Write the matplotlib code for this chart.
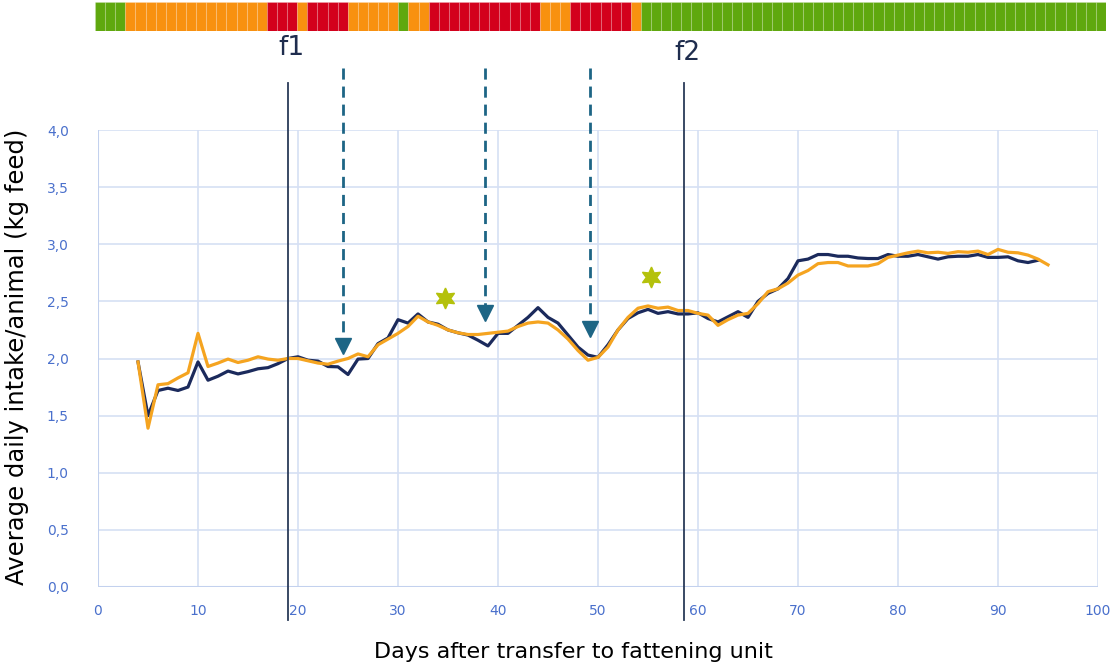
import matplotlib
matplotlib.use("Agg")
import matplotlib.pyplot as plt
import numpy as np

# ---------------- data ----------------
days_dark = list(range(4, 95))
intake_dark = [1.97, 1.50, 1.72, 1.74, 1.72, 1.75, 1.97, 1.81, 1.845, 1.89,
               1.865, 1.885, 1.91, 1.92, 1.955, 2.00, 2.015, 1.985, 1.977, 1.93,
               1.927, 1.86, 1.995, 2.00, 2.13, 2.18, 2.34, 2.31, 2.39, 2.32,
               2.30, 2.25, 2.225, 2.205, 2.16, 2.11, 2.22, 2.22, 2.29, 2.36,
               2.445, 2.36, 2.31, 2.205, 2.10, 2.03, 2.01, 2.12, 2.25, 2.35,
               2.40, 2.43, 2.395, 2.41, 2.39, 2.39, 2.40, 2.35, 2.32, 2.365,
               2.41, 2.36, 2.50, 2.57, 2.61, 2.70, 2.855, 2.87, 2.91, 2.91,
               2.895, 2.895, 2.88, 2.875, 2.875, 2.91, 2.895, 2.895, 2.91, 2.89,
               2.87, 2.89, 2.895, 2.895, 2.91, 2.885, 2.885, 2.89, 2.855, 2.84,
               2.86]

days_orange = list(range(4, 96))
intake_orange = [1.97, 1.39, 1.77, 1.78, 1.83, 1.875, 2.22, 1.93, 1.96, 1.995,
                 1.965, 1.985, 2.015, 1.995, 1.985, 2.00, 2.00, 1.98, 1.96, 1.95,
                 1.977, 2.00, 2.04, 2.015, 2.12, 2.17, 2.22, 2.28, 2.37, 2.32,
                 2.29, 2.25, 2.225, 2.21, 2.21, 2.22, 2.23, 2.24, 2.28, 2.31,
                 2.32, 2.31, 2.25, 2.17, 2.07, 1.985, 2.01, 2.10, 2.25, 2.36,
                 2.44, 2.46, 2.44, 2.45, 2.42, 2.42, 2.395, 2.38, 2.29, 2.34,
                 2.38, 2.395, 2.48, 2.585, 2.61, 2.66, 2.73, 2.77, 2.83, 2.84,
                 2.84, 2.81, 2.81, 2.81, 2.83, 2.885, 2.905, 2.925, 2.94, 2.925,
                 2.93, 2.92, 2.935, 2.93, 2.94, 2.91, 2.955, 2.93, 2.925, 2.905,
                 2.87, 2.82]

# status bar (one cell per day): g = green, o = orange, r = red
status_runs = [("g", 3), ("o", 14), ("r", 3), ("o", 1), ("r", 4), ("o", 5),
               ("g", 1), ("o", 2), ("r", 11), ("o", 3), ("r", 6), ("o", 1),
               ("g", 46)]

f_days = [19.0, 58.6]
f_labels = ["f1", "f2"]
arrow_days = [24.5, 38.7, 49.2]
arrow_tips = [2.05, 2.34, 2.20]
star_days = [34.7, 55.3]
star_vals = [2.53, 2.71]

x_ticks = list(range(0, 101, 10))
y_ticks = [0.0, 0.5, 1.0, 1.5, 2.0, 2.5, 3.0, 3.5, 4.0]
y_tick_labels = ["0,0", "0,5", "1,0", "1,5", "2,0", "2,5", "3,0", "3,5", "4,0"]

# ---------------- figure ----------------
W, H = 1114, 665
fig = plt.figure(figsize=(W / 100, H / 100), dpi=100)
fig.patch.set_facecolor("white")

def px_box(x0, y0, x1, y1):
    return [x0 / W, 1 - y1 / H, (x1 - x0) / W, (y1 - y0) / H]

PX_PER_UNIT = 457 / 4.0   # vertical pixels per kg

ax = fig.add_axes(px_box(98, 130, 1098, 587))
ax.set_xlim(0, 100)
ax.set_ylim(0, 4)

grid_c = "#d6e0f4"
for xt in x_ticks:
    ax.axvline(xt, color=grid_c, lw=1.2, zorder=0)
for yt in y_ticks:
    ax.axhline(yt, color=grid_c, lw=1.2, zorder=0)
for s in ax.spines.values():
    s.set_visible(False)
ax.axvline(0, color="#c3d1ee", lw=1.5, zorder=0)
ax.axhline(0, color="#c3d1ee", lw=1.5, zorder=0)

tick_c = "#4a70cc"
ax.set_xticks(x_ticks)
ax.set_xticklabels([str(t) for t in x_ticks], fontsize=10, color=tick_c)
ax.set_yticks(y_ticks)
ax.set_yticklabels(y_tick_labels, fontsize=10, color=tick_c)
ax.tick_params(axis="both", length=0)
ax.tick_params(axis="x", pad=12)
ax.tick_params(axis="y", pad=21)

ax.plot(days_dark, intake_dark, color="#1b2a5c", lw=2.3, zorder=3,
        solid_joinstyle="round")
ax.plot(days_orange, intake_orange, color="#f5a420", lw=2.3, zorder=4,
        solid_joinstyle="round")

def py(pixel_y):
    return (587 - pixel_y) / PX_PER_UNIT

# f1 / f2 vertical lines (extend beyond axes)
for d in f_days:
    ax.plot([d, d], [py(620), py(83)], color="#2a3a58", lw=1.3,
            clip_on=False, zorder=5)
for d, lab, ly in zip(f_days, f_labels, [48, 53]):
    ax.text(d + 0.3, py(ly), lab, ha="center", va="center", fontsize=19,
            color="#1f2d4e", clip_on=False)

# dashed arrows
arrow_c = "#1d6585"
head_px = 13
for d, tip in zip(arrow_days, arrow_tips):
    ax.plot([d, d], [py(68), tip + (head_px - 2) / PX_PER_UNIT], color=arrow_c,
            lw=2.0, linestyle=(0, (4, 2.5)), clip_on=False, zorder=6)
    ax.plot([d], [tip + head_px / 2 / PX_PER_UNIT], marker="v", markersize=11.5,
            color=arrow_c, linestyle="none", clip_on=False, zorder=6)

# stars
ax.plot(star_days, star_vals, linestyle="none", marker=(6, 1, 0),
        markersize=15, color="#b4c10c", markeredgecolor="#b4c10c", zorder=6)

fig.text(17 / W, 1 - 357 / H, "Average daily intake/animal (kg feed)",
         rotation=90, ha="center", va="center", fontsize=17.5)
fig.text(573 / W, 1 - 652 / H, "Days after transfer to fattening unit",
         ha="center", va="center", fontsize=16)

# status bar
bar_ax = fig.add_axes(px_box(95, 2, 1106, 31))
color_map = {"g": "#5fa80e", "o": "#f8910f", "r": "#d3001c"}
status = []
for code, n in status_runs:
    status += [code] * n
bar_ax.bar(np.arange(len(status)), np.ones(len(status)), width=1.0,
           color=[color_map[c] for c in status], edgecolor=(1, 1, 1, 0.15),
           linewidth=0.8, align="edge")
bar_ax.set_xlim(0, len(status))
bar_ax.set_ylim(0, 1)
bar_ax.axis("off")

fig.savefig("out.png", dpi=100, facecolor="white")
